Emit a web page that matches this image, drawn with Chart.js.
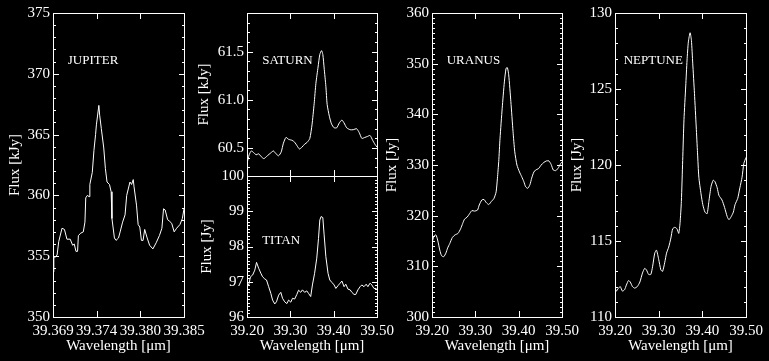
<!DOCTYPE html>
<html>
<head>
<meta charset="utf-8">
<script src="https://cdn.jsdelivr.net/npm/chart.js"></script>
<style>
  body { margin: 0; background: #000; }
  canvas { position: absolute; left: 0; top: 0; }
</style>
</head>
<body>
<canvas id="jup" width="769" height="361"></canvas>
<canvas id="sat" width="769" height="361"></canvas>
<canvas id="tit" width="769" height="361"></canvas>
<canvas id="ura" width="769" height="361"></canvas>
<canvas id="nep" width="769" height="361"></canvas>
<script>
// data

const jupiterWave = [39.3690, 39.3691, 39.3695, 39.3697, 39.3701, 39.3704, 39.3707, 39.3711, 39.3714, 39.3716,
  39.3718, 39.3720, 39.3721, 39.3724, 39.3727, 39.3729, 39.3730, 39.3732, 39.3734, 39.3735,
  39.3738, 39.3740, 39.3742, 39.3743, 39.3746, 39.3747, 39.3749, 39.3752, 39.3754, 39.3756,
  39.3759, 39.3761, 39.3762, 39.3765, 39.3767, 39.3770, 39.3772, 39.3775, 39.3778, 39.3780,
  39.3784, 39.3786, 39.3788, 39.3789, 39.3792, 39.3794, 39.3796, 39.3798, 39.3800, 39.3802,
  39.3805, 39.3808, 39.3812, 39.3816, 39.3820, 39.3823, 39.3825, 39.3827, 39.3830, 39.3832,
  39.3835, 39.3838, 39.3841, 39.3845, 39.3848, 39.3850];
const jupiterFlux = [353.7, 354.8, 355.1, 356.2, 357.3, 357.2, 356.4, 356.4, 355.9, 356.0,
  355.4, 355.4, 356.7, 356.9, 357.0, 357.8, 359.8, 360.0, 359.9, 360.9,
  361.9, 363.7, 365.0, 365.8, 367.4, 366.6, 365.5, 363.9, 362.2, 361.1,
  360.9, 360.3, 358.1, 356.5, 356.3, 356.5, 357.0, 357.8, 358.4, 360.0,
  361.1, 360.9, 361.3, 360.7, 359.2, 357.6, 357.4, 356.3, 356.3, 357.2,
  356.5, 355.9, 355.6, 356.1, 356.7, 357.3, 358.9, 358.8, 358.0, 357.9,
  357.7, 357.0, 357.3, 357.6, 358.1, 358.9];

const saturnWave = [39.200, 39.205, 39.210, 39.216, 39.221, 39.227, 39.233, 39.239, 39.247, 39.255,
  39.261, 39.267, 39.273, 39.279, 39.284, 39.290, 39.296, 39.304, 39.310, 39.316,
  39.321, 39.327, 39.333, 39.339, 39.345, 39.350, 39.355, 39.359, 39.364, 39.368,
  39.372, 39.375, 39.378, 39.382, 39.385, 39.390, 39.395, 39.401, 39.407, 39.413,
  39.419, 39.424, 39.430, 39.438, 39.445, 39.453, 39.459, 39.465, 39.472, 39.478,
  39.484, 39.490, 39.495, 39.500];
const saturnFlux = [60.34, 60.43, 60.47, 60.45, 60.43, 60.44, 60.41, 60.39, 60.42, 60.45,
  60.47, 60.44, 60.42, 60.46, 60.55, 60.61, 60.59, 60.58, 60.56, 60.52,
  60.49, 60.51, 60.54, 60.56, 60.60, 60.74, 60.96, 61.17, 61.34, 61.47,
  61.51, 61.47, 61.33, 61.14, 60.95, 60.83, 60.75, 60.71, 60.71, 60.76,
  60.79, 60.76, 60.71, 60.69, 60.69, 60.70, 60.66, 60.60, 60.61, 60.62,
  60.63, 60.58, 60.54, 60.51];

const titanWave = [39.200, 39.204, 39.208, 39.213, 39.218, 39.222, 39.227, 39.232, 39.236, 39.241,
  39.245, 39.250, 39.255, 39.259, 39.264, 39.268, 39.273, 39.278, 39.282, 39.287,
  39.292, 39.296, 39.301, 39.305, 39.310, 39.315, 39.319, 39.324, 39.328, 39.333,
  39.338, 39.342, 39.347, 39.351, 39.356, 39.361, 39.365, 39.368, 39.371, 39.375,
  39.378, 39.382, 39.387, 39.391, 39.396, 39.401, 39.405, 39.410, 39.415, 39.419,
  39.424, 39.428, 39.433, 39.438, 39.442, 39.447, 39.451, 39.456, 39.461, 39.465,
  39.470, 39.475, 39.479, 39.484, 39.488, 39.493, 39.498, 39.500];
const titanFlux = [96.96, 96.91, 97.14, 97.19, 97.33, 97.55, 97.38, 97.24, 97.14, 97.08,
  97.05, 96.86, 96.67, 96.48, 96.37, 96.43, 96.62, 96.70, 96.53, 96.43,
  96.38, 96.48, 96.42, 96.53, 96.51, 96.64, 96.76, 96.70, 96.77, 96.70,
  96.74, 96.67, 96.58, 96.91, 97.24, 97.67, 98.23, 98.75, 98.85, 98.82,
  98.33, 97.71, 97.24, 97.05, 96.98, 96.91, 96.81, 96.89, 96.96, 97.02,
  96.86, 96.93, 96.79, 96.77, 96.70, 96.64, 96.64, 96.77, 96.86, 96.91,
  96.86, 96.93, 96.86, 96.96, 96.91, 96.81, 96.81, 96.77];

const uranusWave = [39.200, 39.204, 39.209, 39.213, 39.218, 39.222, 39.227, 39.232, 39.236, 39.241,
  39.247, 39.253, 39.260, 39.266, 39.271, 39.275, 39.281, 39.286, 39.292, 39.298,
  39.305, 39.309, 39.315, 39.320, 39.325, 39.331, 39.337, 39.343, 39.348, 39.351,
  39.354, 39.357, 39.362, 39.367, 39.371, 39.374, 39.377, 39.382, 39.387, 39.391,
  39.396, 39.402, 39.407, 39.412, 39.416, 39.421, 39.426, 39.430, 39.435, 39.439,
  39.446, 39.452, 39.458, 39.464, 39.470, 39.475, 39.480, 39.486, 39.492, 39.497,
  39.500];
const uranusFlux = [314.5, 315.9, 316.2, 315.2, 313.2, 312.1, 311.9, 312.6, 313.6, 314.5,
  315.7, 316.2, 316.5, 317.4, 318.5, 319.3, 319.7, 320.3, 321.0, 320.9,
  321.1, 322.1, 323.1, 323.2, 322.6, 322.2, 322.8, 323.4, 324.7, 327.4,
  330.7, 335.3, 341.2, 346.4, 349.1, 349.2, 347.8, 342.5, 336.6, 332.6,
  330.0, 328.6, 327.7, 326.7, 325.7, 325.4, 326.1, 327.4, 328.6, 329.0,
  329.3, 330.0, 330.5, 330.8, 330.8, 330.1, 329.0, 328.9, 329.5, 330.3,
  330.6];

const neptuneWave = [39.200, 39.203, 39.208, 39.212, 39.217, 39.222, 39.226, 39.231, 39.235, 39.240,
  39.245, 39.251, 39.257, 39.263, 39.268, 39.272, 39.277, 39.282, 39.286, 39.291,
  39.295, 39.300, 39.305, 39.309, 39.314, 39.318, 39.323, 39.328, 39.332, 39.337,
  39.342, 39.346, 39.349, 39.352, 39.355, 39.358, 39.362, 39.365, 39.368, 39.372,
  39.375, 39.378, 39.382, 39.386, 39.389, 39.392, 39.397, 39.401, 39.406, 39.411,
  39.415, 39.420, 39.425, 39.429, 39.434, 39.438, 39.445, 39.451, 39.457, 39.461,
  39.466, 39.471, 39.475, 39.481, 39.486, 39.491, 39.495, 39.500];
const neptuneFlux = [112.0, 111.7, 111.9, 112.0, 111.7, 111.8, 112.1, 112.4, 112.3, 112.0,
  111.9, 112.0, 112.3, 112.9, 113.2, 113.1, 112.8, 112.8, 113.3, 114.2,
  114.4, 113.8, 113.1, 113.0, 113.6, 114.2, 114.6, 115.2, 115.8, 115.9,
  115.8, 115.5, 116.2, 117.6, 120.3, 123.0, 125.2, 126.9, 128.1, 128.7,
  128.2, 126.7, 124.7, 122.5, 120.8, 119.2, 118.1, 117.4, 116.9, 116.8,
  117.6, 118.6, 119.0, 118.9, 118.5, 118.0, 117.7, 117.2, 116.6, 116.4,
  116.6, 116.9, 117.4, 117.8, 118.5, 119.2, 120.1, 120.5];

// tick values
const jupiterXTicks = [39.369, 39.37433, 39.37967, 39.385];
const wideXTicks = [39.2, 39.3, 39.4, 39.5];
const jupiterYTicks = [350, 355, 360, 365, 370, 375];
const saturnYTicks = [60.5, 61.0, 61.5];
const titanYTicks = [96, 97, 98, 99, 100];
const uranusYTicks = [300, 310, 320, 330, 340, 350, 360];
const neptuneYTicks = [110, 115, 120, 125, 130];

Chart.defaults.font.family = "'Liberation Serif', 'DejaVu Serif', serif";
Chart.defaults.font.size = 15;
Chart.defaults.color = '#fff';

// box around the plot with inward ticks on all four sides (IDL look)
const frameTicks = {
  id: 'frameTicks',
  afterDraw(chart, args, opts) {
    const {ctx, chartArea: a} = chart;
    const xs = chart.scales.x, ys = chart.scales.y;
    ctx.save();
    ctx.strokeStyle = '#fff';
    ctx.lineWidth = 1;
    ctx.strokeRect(a.left + 0.5, a.top + 0.5, a.right - a.left, a.bottom - a.top);
    ctx.beginPath();
    xs.ticks.forEach(t => {
      const px = Math.round(xs.getPixelForValue(t.value)) + 0.5;
      if (px < a.left + 2 || px > a.right - 1) return;
      ctx.moveTo(px, a.bottom); ctx.lineTo(px, a.bottom - 6);
      ctx.moveTo(px, a.top); ctx.lineTo(px, a.top + 6);
    });
    const majors = ys.ticks.map(t => t.value);
    majors.forEach(v => {
      const py = Math.round(ys.getPixelForValue(v)) + 0.5;
      ctx.moveTo(a.left, py); ctx.lineTo(a.left + 6, py);
      ctx.moveTo(a.right + 1, py); ctx.lineTo(a.right - 5, py);
    });
    const step = opts.minorY;
    for (let i = Math.ceil(ys.min / step - 1e-6); i * step <= ys.max + 1e-9; i++) {
      const v = i * step;
      if (majors.some(m => Math.abs(m - v) < step / 10)) continue;
      const py = Math.round(ys.getPixelForValue(v)) + 0.5;
      ctx.moveTo(a.left, py); ctx.lineTo(a.left + 3, py);
      ctx.moveTo(a.right + 1, py); ctx.lineTo(a.right - 2, py);
    }
    ctx.stroke();
    if (opts.label) {
      ctx.fillStyle = '#fff';
      ctx.font = "13px 'Liberation Serif', serif";
      ctx.textBaseline = 'middle';
      ctx.fillText(opts.label.text, xs.getPixelForValue(opts.label.x), ys.getPixelForValue(opts.label.y));
    }
    ctx.restore();
  }
};

function panel(id, o) {
  return new Chart(document.getElementById(id), {
    type: 'line',
    data: {
      datasets: [{
        data: o.wave.map((w, i) => ({x: w, y: o.flux[i]})),
        borderColor: '#fff',
        borderWidth: 1,
        pointRadius: 0,
        tension: o.tension,
        fill: false
      }]
    },
    options: {
      responsive: false,
      animation: false,
      events: [],
      layout: {
        autoPadding: false,
        padding: {left: o.left - o.yWidth, right: 769 - o.right, top: o.top, bottom: 361 - o.bottom - o.xHeight}
      },
      plugins: {
        legend: {display: false},
        tooltip: {enabled: false},
        frameTicks: {minorY: o.minorY, label: o.label}
      },
      scales: {
        x: {
          type: 'linear',
          min: o.xMin, max: o.xMax,
          afterBuildTicks: s => { s.ticks = o.xTicks.map(v => ({value: v})); },
          afterFit: s => { s.height = o.xHeight; s.paddingLeft = 0; s.paddingRight = 0; },
          grid: {display: false, drawTicks: false},
          border: {display: false},
          ticks: {display: o.xHeight > 0, padding: 5, autoSkip: false, maxRotation: 0, minRotation: 0,
                  callback: v => v.toFixed(o.xDec)},
          title: {display: o.xHeight > 0, text: 'Wavelength [μm]', padding: {top: 0, bottom: 6}}
        },
        y: {
          min: o.yMin, max: o.yMax,
          afterBuildTicks: s => { s.ticks = o.yTicks.map(v => ({value: v})); },
          afterFit: s => { s.width = o.yWidth; s.paddingTop = 0; s.paddingBottom = 0; },
          grid: {display: false, drawTicks: false},
          border: {display: false},
          ticks: {padding: 3, autoSkip: false, callback: v => v.toFixed(o.yDec)},
          title: {display: true, text: o.yTitle, padding: {top: 1, bottom: 0}}
        }
      }
    },
    plugins: [frameTicks]
  });
}

panel('jup', {
  wave: jupiterWave, flux: jupiterFlux, tension: 0,
  left: 53, right: 184, top: 13, bottom: 317, yWidth: 48, xHeight: 44,
  xMin: 39.369, xMax: 39.385, xTicks: jupiterXTicks, xDec: 3,
  yMin: 350, yMax: 375, yTicks: jupiterYTicks, yDec: 0, minorY: 1,
  yTitle: 'Flux [kJy]',
  label: {text: 'JUPITER', x: 39.3708, y: 371.1}
});

panel('sat', {
  wave: saturnWave, flux: saturnFlux, tension: 0.2,
  left: 247, right: 377, top: 13, bottom: 176, yWidth: 53, xHeight: 0,
  xMin: 39.2, xMax: 39.5, xTicks: wideXTicks, xDec: 2,
  yMin: 60.21, yMax: 61.9, yTicks: saturnYTicks, yDec: 1, minorY: 0.1,
  yTitle: 'Flux [kJy]',
  label: {text: 'SATURN', x: 39.235, y: 61.41}
});

panel('tit', {
  wave: titanWave, flux: titanFlux, tension: 0,
  left: 247, right: 377, top: 176, bottom: 317, yWidth: 50, xHeight: 44,
  xMin: 39.2, xMax: 39.5, xTicks: wideXTicks, xDec: 2,
  yMin: 96, yMax: 100, yTicks: titanYTicks, yDec: 0, minorY: 0.1,
  yTitle: 'Flux [Jy]',
  label: {text: 'TITAN', x: 39.235, y: 98.16}
});

panel('ura', {
  wave: uranusWave, flux: uranusFlux, tension: 0.2,
  left: 432, right: 562, top: 13, bottom: 317, yWidth: 50, xHeight: 44,
  xMin: 39.2, xMax: 39.5, xTicks: wideXTicks, xDec: 2,
  yMin: 300, yMax: 360, yTicks: uranusYTicks, yDec: 0, minorY: 1,
  yTitle: 'Flux [Jy]',
  label: {text: 'URANUS', x: 39.234, y: 350.7}
});

panel('nep', {
  wave: neptuneWave, flux: neptuneFlux, tension: 0.2,
  left: 615, right: 746, top: 13, bottom: 317, yWidth: 48, xHeight: 44,
  xMin: 39.2, xMax: 39.5, xTicks: wideXTicks, xDec: 2,
  yMin: 110, yMax: 130, yTicks: neptuneYTicks, yDec: 0, minorY: 1,
  yTitle: 'Flux [Jy]',
  label: {text: 'NEPTUNE', x: 39.220, y: 126.9}
});
</script>
</body>
</html>
